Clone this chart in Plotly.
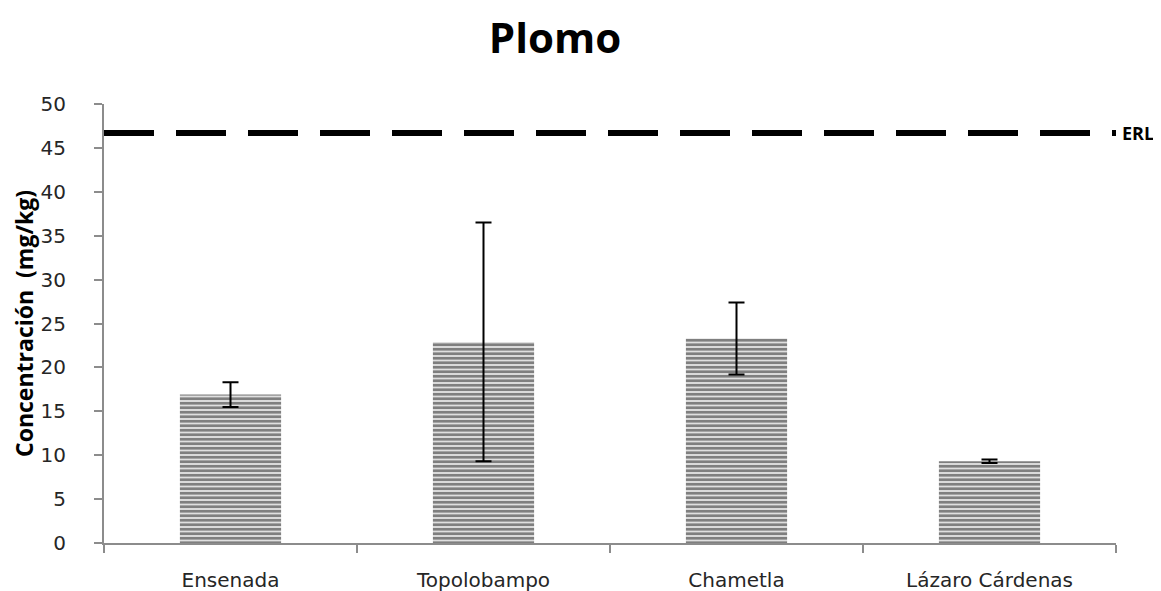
import plotly.graph_objects as go

sitios = ["Ensenada", "Topolobampo", "Chametla", "Lázaro Cárdenas"]
plomo = [16.9, 22.9, 23.3, 9.3]
desv = [1.4, 13.6, 4.1, 0.2]
erl = 46.7

fig = go.Figure()
fig.add_trace(go.Bar(
    x=sitios,
    y=plomo,
    width=0.4,
    marker=dict(color="white", line=dict(width=0),
                pattern=dict(shape="-", fgcolor="black", bgcolor="white",
                             size=4.5, solidity=0.7)),
    error_y=dict(type="data", array=desv, color="black", thickness=2, width=8),
    showlegend=False))

# linea ERL
fig.add_hline(y=erl, line=dict(color="black", width=6, dash="50px,22px"))
fig.add_annotation(x=1, xref="paper", y=erl, yref="y", text="<b>ERL</b>",
                   showarrow=False, xanchor="left", xshift=4,
                   font=dict(family="Open Sans", size=18, color="black"))

fig.update_layout(
    width=1153, height=583,
    plot_bgcolor="white", paper_bgcolor="white",
    margin=dict(l=96, r=45, t=96, b=48),
    title=dict(text="<b>Plomo</b>", x=0.4745, xanchor="center", y=0.948, yanchor="middle",
               font=dict(family="Open Sans", size=42, color="black")),
    font=dict(family="DejaVu Sans", size=20, color="#262626"),
    xaxis=dict(showline=True, linecolor="#8c8c8c", linewidth=2, ticks="outside",
               tickson="boundaries", ticklen=8, tickcolor="#8c8c8c", tickwidth=2,
               ticklabelstandoff=18, automargin=False, tickfont=dict(size=20)),
    yaxis=dict(range=[0, 50], dtick=5, showline=True, linecolor="#8c8c8c", linewidth=2,
               ticks="outside", ticklen=8, tickcolor="#8c8c8c", tickwidth=2,
               ticklabelstandoff=24, automargin=False,
               showgrid=False, zeroline=False, tickfont=dict(size=20),
               title=dict(text="<b>Concentración  (mg/kg)</b>", standoff=2,
                          font=dict(family="Open Sans", size=23, color="black"))),
)

fig.write_html("out.html")
